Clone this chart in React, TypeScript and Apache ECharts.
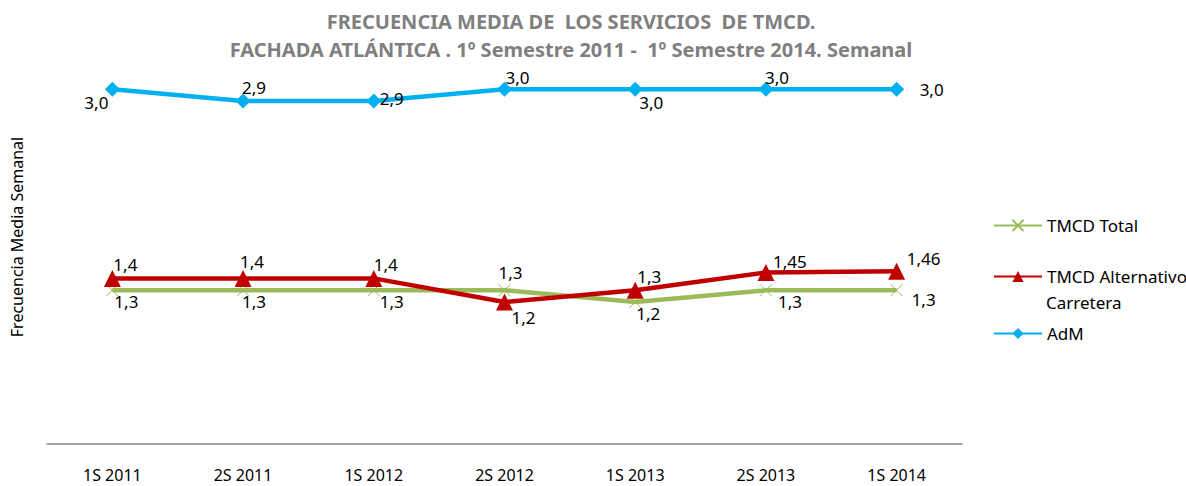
import React, { useEffect, useRef } from "react";
import * as echarts from "echarts";

const categories = ["1S 2011", "2S 2011", "1S 2012", "2S 2012", "1S 2013", "2S 2013", "1S 2014"];
const tmcdTotal = [1.3, 1.3, 1.3, 1.3, 1.2, 1.3, 1.3];
const tmcdAlt = [1.4, 1.4, 1.4, 1.2, 1.3, 1.45, 1.46];
const adm = [3.0, 2.9, 2.9, 3.0, 3.0, 3.0, 3.0];

const titleLines = [
  "FRECUENCIA MEDIA DE  LOS SERVICIOS  DE TMCD.",
  "FACHADA ATLÁNTICA . 1º Semestre 2011 -  1º Semestre 2014. Semanal",
];
const yAxisName = "Frecuencia Media Semanal";
const seriesNames = ["TMCD Total", "TMCD Alternativo Carretera", "AdM"];
const altLegendLines = ["TMCD Alternativo", "Carretera"];

// label offsets (style only)
const totalOffsets = [[14, 11], [11, 11], [18, 11], [6, -18], [13, 11], [24, 11], [27, 9]];
const altOffsets = [[13, -14], [9, -17], [12, -14], [19, 15], [14, -14], [24, -11], [27, -13]];
const admOffsets = [[-16, 13], [11, -13], [18, -2], [13, -12], [16, 13], [11, -12], [35, 0]];

const FONT = "'Noto Sans', 'Open Sans', sans-serif";

const fmt = (v: number) => {
  const s = Math.abs(v * 10 - Math.round(v * 10)) < 1e-9 ? v.toFixed(1) : v.toFixed(2);
  return s.replace(".", ",");
};

const mkData = (vals: number[], offs: number[][]) =>
  vals.map((v, i) => ({
    value: v,
    label: { offset: offs[i] },
  }));

export default function App() {
  const ref = useRef<HTMLDivElement>(null);
  useEffect(() => {
    if (!ref.current) return;
    const chart = echarts.init(ref.current, undefined, { renderer: "svg" });
    const labelCommon = {
      show: true,
      position: "inside",
      color: "#000",
      fontFamily: FONT,
      fontSize: 17,
      formatter: (p: any) => fmt(p.value),
    };
    const legendText = { fontFamily: FONT, fontSize: 17, color: "#000" };
    const legendCommon = {
      orient: "vertical",
      left: 993,
      padding: 0,
      itemWidth: 48,
      itemHeight: 14,
      textStyle: legendText,
    };
    chart.setOption({
      animation: false,
      backgroundColor: "#fff",
      grid: { left: 47, right: 224, top: 30, bottom: 42, containLabel: false, outerBoundsMode: "none" },
      xAxis: {
        type: "category",
        data: categories,
        boundaryGap: true,
        axisLine: { lineStyle: { color: "#868686", width: 1.5 } },
        axisTick: { show: false },
        axisLabel: { color: "#000", fontFamily: FONT, fontSize: 16, lineHeight: 16, margin: 23 },
      },
      yAxis: {
        type: "value",
        min: 0,
        max: 3.5,
        name: yAxisName,
        nameLocation: "middle",
        nameGap: 22,
        nameRotate: 90,
        nameTextStyle: { color: "#000", fontFamily: FONT, fontSize: 16 },
        axisLine: { show: false },
        axisTick: { show: false },
        axisLabel: { show: false },
        splitLine: { show: false },
      },
      legend: [
        { ...legendCommon, top: 217, data: [seriesNames[0]] },
        {
          ...legendCommon,
          top: 268,
          data: [seriesNames[1]],
          formatter: () => altLegendLines[0],
        },
        { ...legendCommon, top: 325, data: [seriesNames[2]] },
      ],
      graphic: [
        {
          type: "text",
          x: 571,
          y: 21,
          style: {
            text: titleLines[0],
            align: "center",
            verticalAlign: "middle",
            fill: "#7F7F7F",
            font: `bold 20px ${FONT}`,
          },
        },
        {
          type: "text",
          x: 571,
          y: 49,
          style: {
            text: titleLines[1],
            align: "center",
            verticalAlign: "middle",
            fill: "#7F7F7F",
            font: `bold 20px ${FONT}`,
          },
        },
        {
          type: "text",
          x: 1046,
          y: 302,
          style: {
            text: altLegendLines[1],
            align: "left",
            verticalAlign: "middle",
            fill: "#000",
            font: `17px ${FONT}`,
          },
        },
      ],
      series: [
        {
          name: seriesNames[0],
          type: "line",
          data: mkData(tmcdTotal, totalOffsets),
          symbol: "path://M0,0L10,10M10,0L0,10",
          symbolSize: 12,
          lineStyle: { color: "#9BBB59", width: 4.5 },
          itemStyle: { color: "transparent", borderColor: "#9BBB59", borderWidth: 1 },
          label: labelCommon,
          z: 2,
        },
        {
          name: seriesNames[1],
          type: "line",
          data: mkData(tmcdAlt, altOffsets),
          symbol: "triangle",
          symbolSize: 17,
          lineStyle: { color: "#C00000", width: 4.5 },
          itemStyle: { color: "#C00000" },
          label: labelCommon,
          z: 3,
        },
        {
          name: seriesNames[2],
          type: "line",
          data: mkData(adm, admOffsets),
          symbol: "diamond",
          symbolSize: 15,
          lineStyle: { color: "#00B0F0", width: 4.5 },
          itemStyle: { color: "#00B0F0" },
          label: labelCommon,
          z: 4,
        },
      ],
    });
    return () => chart.dispose();
  }, []);
  return (
    <div
      ref={ref}
      style={{ position: "absolute", left: 0, top: 0, width: 1186, height: 486 }}
    />
  );
}
